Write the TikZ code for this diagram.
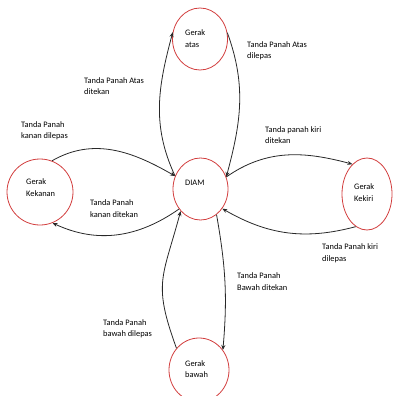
\documentclass[tikz,border=0pt]{standalone}
\usepackage{fontspec}
\setmainfont{Carlito}
\usetikzlibrary{shapes.geometric,arrows.meta}
\definecolor{ered}{RGB}{210,62,62}
\definecolor{aline}{RGB}{40,40,40}
\begin{document}
\begin{tikzpicture}[x=1pt,y=-1pt,
  state/.style={ellipse,draw=ered,line width=0.8pt,inner sep=0pt},
  lbl/.style={align=left,anchor=west,inner sep=0pt,text=black,font=\fontsize{8.4}{11.5}\selectfont},
  conn/.style={draw=aline,line width=0.8pt,-{Stealth[length=5pt,width=4pt]}}]
\useasboundingbox (0,0) rectangle (393,396);
% states
\node[state,minimum width=55pt,minimum height=62pt] (atas) at (200,39) {};
\node[state,minimum width=55pt,minimum height=62pt] (diam) at (200.5,189) {};
\node[state,minimum width=66pt,minimum height=66pt] (kanan) at (40,192) {};
\node[state,minimum width=50pt,minimum height=72pt] (kiri) at (367,194) {};
\node[state,minimum width=60pt,minimum height=64pt] (bawah) at (199,370) {};
% state texts
\node[lbl] (tatas) at (185,38.5) {Gerak\\atas};
\node[lbl] (tdiam) at (185,183) {DIAM};
\node[lbl] (tkanan) at (26,187.5) {Gerak\\Kekanan};
\node[lbl] (tkiri) at (354,192.5) {Gerak\\Kekiri};
\node[lbl] (tbawah) at (185,369) {Gerak\\bawah};
% edge labels
\node[lbl] (l1) at (247,51) {Tanda Panah Atas\\dilepas};
\node[lbl] (l2) at (84,86) {Tanda Panah Atas\\ditekan};
\node[lbl] (l3) at (21,131) {Tanda Panah\\kanan dilepas};
\node[lbl] (l4) at (90,208.5) {Tanda Panah\\kanan ditekan};
\node[lbl] (l5) at (265,135) {Tanda panah kiri\\ditekan};
\node[lbl] (l6) at (322,253.5) {Tanda Panah kiri\\dilepas};
\node[lbl] (l7) at (237,281.5) {Tanda Panah\\Bawah ditekan};
\node[lbl] (l8) at (103,329) {Tanda Panah\\bawah dilepas};
% connectors
\draw[conn] (atas.13) to[out=-70,in=75] (diam.25);
\draw[conn] (diam.153) to[out=115,in=-105] (atas.166);
\draw[conn] (kanan.69) to[out=30,in=150] (diam.153);
\draw[conn] (diam.223) to[out=-145,in=-25] (kanan.-68);
\draw[conn] (diam.25) to[out=35,in=165] (kiri.116);
\draw[conn] (kiri.-109) to[out=195,in=-30] (diam.-42);
\draw[conn] (diam.-58) to[out=-80,in=85] (bawah.40);
\draw[conn] (bawah.136) to[out=110,in=-105,looseness=1.3] (diam.228);
\end{tikzpicture}
\end{document}
